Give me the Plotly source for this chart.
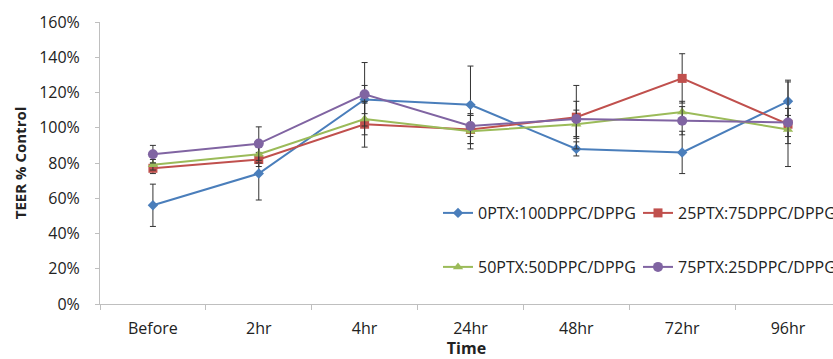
import plotly.graph_objects as go

# Time points and TEER values (fraction of control) with standard deviations
times = ["Before", "2hr", "4hr", "24hr", "48hr", "72hr", "96hr"]

ptx0 = [0.56, 0.74, 1.16, 1.13, 0.88, 0.86, 1.15]
ptx0_err = [0.12, 0.15, 0.08, 0.22, 0.04, 0.12, 0.12]

ptx25 = [0.77, 0.82, 1.02, 0.99, 1.06, 1.28, 1.02]
ptx25_err = [0.03, 0.04, 0.13, 0.08, 0.18, 0.14, 0.24]

ptx50 = [0.79, 0.85, 1.05, 0.98, 1.02, 1.09, 0.99]
ptx50_err = [0.03, 0.05, 0.09, 0.10, 0.08, 0.06, 0.08]

ptx75 = [0.85, 0.91, 1.19, 1.01, 1.05, 1.04, 1.03]
ptx75_err = [0.05, 0.095, 0.18, 0.06, 0.10, 0.08, 0.08]

series = [
    ("0PTX:100DPPC/DPPG", ptx0, ptx0_err, "#4A7EBB", "diamond", 8, "legend"),
    ("25PTX:75DPPC/DPPG", ptx25, ptx25_err, "#C0504D", "square", 9, "legend"),
    ("50PTX:50DPPC/DPPG", ptx50, ptx50_err, "#9BBB59", "triangle-up", 9, "legend2"),
    ("75PTX:25DPPC/DPPG", ptx75, ptx75_err, "#8064A2", "circle", 10, "legend2"),
]

FONT = "Open Sans"

fig = go.Figure()
for name, vals, errs, color, symbol, size, leg in series:
    fig.add_trace(go.Scatter(
        x=times, y=vals, name=name, mode="lines+markers",
        line=dict(color=color, width=2),
        marker=dict(symbol=symbol, size=size, color=color),
        error_y=dict(type="data", array=errs, visible=True,
                     color="#333333", thickness=1, width=3),
        legend=leg,
    ))

# plot area: x 100..833, y 22..304 (pixels)
PX0, PW, PY1, PH = 100, 733, 304, 282

legend_style = dict(
    orientation="h", xref="paper", yref="paper",
    xanchor="left", yanchor="middle", entrywidth=155,
    bgcolor="rgba(0,0,0,0)", font=dict(family=FONT, size=16, color="#222222"),
)

fig.update_layout(
    width=833, height=359,
    margin=dict(l=100, r=0, t=22, b=55, autoexpand=False),
    paper_bgcolor="white", plot_bgcolor="white",
    font=dict(family=FONT, size=16, color="#222222"),
    legend=dict(x=(438 - PX0) / PW, y=(PY1 - 213) / PH, **legend_style),
    legend2=dict(x=(438 - PX0) / PW, y=(PY1 - 267) / PH, **legend_style),
    xaxis=dict(
        type="category", range=[-0.5, 6.425],
        showline=True, linecolor="#BFBFBF", linewidth=1,
        ticks="outside", tickson="boundaries", ticklen=5, tickcolor="#BFBFBF",
        ticklabelstandoff=10,
        showgrid=False, zeroline=False,
        tickfont=dict(family=FONT, size=16),
        title=dict(text="<b>Time</b>", font=dict(family=FONT, size=16), standoff=2),
        automargin=False,
    ),
    yaxis=dict(
        range=[0, 1.6], dtick=0.2, tickformat=".0%",
        showline=True, linecolor="#BFBFBF", linewidth=1,
        ticks="outside", ticklen=4, tickcolor="#BFBFBF",
        ticklabelstandoff=12,
        showgrid=False, zeroline=False,
        tickfont=dict(family=FONT, size=16),
        title=dict(text="<b>TEER % Control</b>", font=dict(family=FONT, size=15), standoff=8),
        automargin=False,
    ),
)

fig.write_html("out.html")
